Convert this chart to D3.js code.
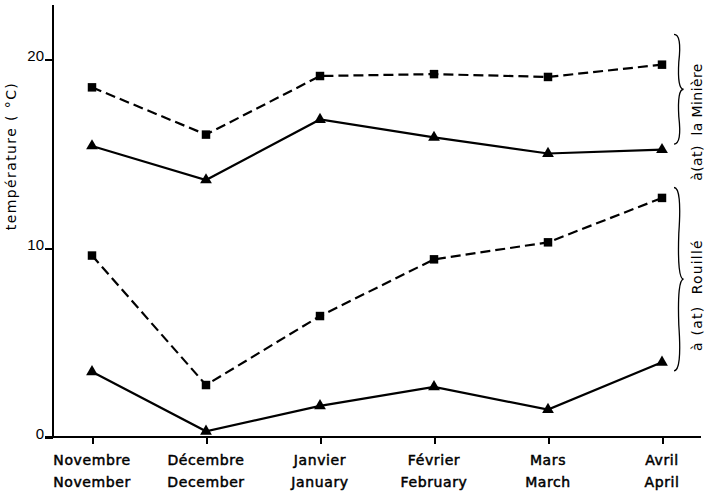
<!DOCTYPE html>
<html>
<meta charset="utf-8">
<style>
body { margin: 0; background: #fff; }
svg { font-family: "DejaVu Sans", Arial, sans-serif; }
.axis path, .axis line { fill: none; stroke: #000; stroke-width: 2; shape-rendering: crispEdges; }
.axis text { font-size: 14px; fill: #000; }
.line { fill: none; stroke: #000; stroke-width: 2.2; }
.dashed { stroke-dasharray: 10 5; }
.brace { fill: none; stroke: #000; stroke-width: 1.3; }
.lbl { font-size: 14px; fill: #000; white-space: pre; }
</style>
<body>
<script src="https://d3js.org/d3.v7.min.js"></script>
<script>
// months, french / english
var monthsFr = ["Novembre", "Décembre", "Janvier", "Février", "Mars", "Avril"];
var monthsEn = ["November", "December", "January", "February", "March", "April"];
var yTicks = [0, 10, 20];

// temperatures
var miniereSquares   = [18.5, 16.0, 19.1, 19.2, 19.05, 19.7];
var miniereTriangles = [15.4, 13.6, 16.8, 15.85, 15.0, 15.2];
var rouilleSquares   = [9.6, 2.75, 6.4, 9.4, 10.3, 12.65];
var rouilleTriangles = [3.45, 0.3, 1.65, 2.65, 1.45, 3.95];

var width = 704, height = 491;

var svg = d3.select("body").append("svg")
	.attr("width", width)
	.attr("height", height);

var x = d3.scalePoint().domain(monthsFr).range([92, 662]);
var y = d3.scaleLinear().domain([0, 20]).range([437, 59]);

// y axis
var yAxis = d3.axisLeft(y).tickValues(yTicks).tickSize(8).tickFormat(d3.format("d"));
var gy = svg.append("g")
	.attr("class", "axis")
	.attr("transform", "translate(53,0)")
	.call(yAxis);
gy.select(".domain").remove();
gy.selectAll(".tick text").attr("x", -9).attr("dy", "0.1em").style("font-size", "15px");
gy.append("line")
	.attr("x1", 0).attr("x2", 0)
	.attr("y1", y(0)).attr("y2", y(22.85));

// x axis
var xAxis = d3.axisBottom(x).tickSize(7).tickFormat("");
var gx = svg.append("g")
	.attr("class", "axis")
	.attr("transform", "translate(0," + y(0) + ")")
	.call(xAxis);
gx.select(".domain").remove();
gx.append("line").attr("x1", 45).attr("x2", 701).attr("y1", 0).attr("y2", 0);

var labels = svg.append("g").attr("class", "axis");
monthsFr.forEach(function(m, i) {
	var t = labels.append("text")
		.attr("text-anchor", "middle")
		.attr("x", x(m))
		.attr("y", 465)
		.style("letter-spacing", "0.6px")
		.style("stroke", "#000")
		.style("stroke-width", "0.5px");
	t.append("tspan").attr("x", x(m)).text(m);
	t.append("tspan").attr("x", x(m)).attr("dy", 22).text(monthsEn[i]);
});

svg.append("text")
	.attr("class", "lbl")
	.attr("transform", "translate(16,156) rotate(-90)")
	.attr("text-anchor", "middle")
	.style("letter-spacing", "1.4px")
	.text("température ( °C)");

// series
var valueline = d3.line()
	.x(function(d, i) { return x(monthsFr[i]); })
	.y(function(d) { return y(d); });

function drawSeries(data, dashed, marker) {
	svg.append("path")
		.attr("class", dashed ? "line dashed" : "line")
		.attr("d", valueline(data));
	svg.selectAll(null)
		.data(data)
		.enter().append("path")
		.attr("transform", function(d, i) { return "translate(" + x(monthsFr[i]) + "," + y(d) + ")"; })
		.attr("d", d3.symbol().type(marker).size(marker === d3.symbolSquare ? 72 : 60))
		.attr("fill", "#000");
}
drawSeries(miniereSquares, true, d3.symbolSquare);
drawSeries(miniereTriangles, false, d3.symbolTriangle);
drawSeries(rouilleSquares, true, d3.symbolSquare);
drawSeries(rouilleTriangles, false, d3.symbolTriangle);

// braces on the right
function brace(bx, y1, y2, w) {
	var ym = (y1 + y2) / 2;
	return "M" + bx + "," + y1 +
		" Q" + (bx + w) + "," + y1 + " " + (bx + w * 0.6) + "," + (y1 + (ym - y1) * 0.5) +
		" Q" + (bx + w * 0.4) + "," + ym + " " + (bx + w * 1.2) + "," + ym +
		" Q" + (bx + w * 0.4) + "," + ym + " " + (bx + w * 0.6) + "," + (ym + (y2 - ym) * 0.5) +
		" Q" + (bx + w) + "," + y2 + " " + bx + "," + y2;
}
svg.append("path").attr("class", "brace").attr("d", brace(674, y(21.3), y(15.5), 8));
svg.append("path").attr("class", "brace").attr("d", brace(674, y(13.2), y(3.5), 8));

svg.append("text")
	.attr("class", "lbl")
	.attr("transform", "translate(702,122) rotate(-90)")
	.attr("text-anchor", "middle")
	.style("letter-spacing", "0.4px")
	.text("à(at)  la Minière");
svg.append("text")
	.attr("class", "lbl")
	.attr("transform", "translate(702,295) rotate(-90)")
	.attr("text-anchor", "middle")
	.style("letter-spacing", "1.2px")
	.text("à (at)  Rouillé");
</script>
</body>
</html>
